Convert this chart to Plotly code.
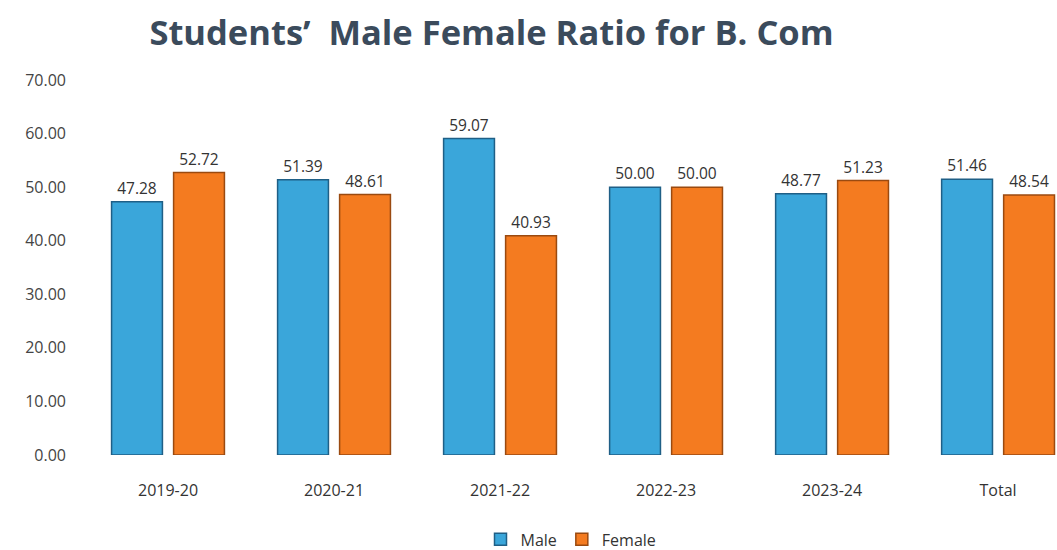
import plotly.graph_objects as go

categories = ["2019-20", "2020-21", "2021-22", "2022-23", "2023-24", "Total"]
male = [47.28, 51.39, 59.07, 50.00, 48.77, 51.46]
female = [52.72, 48.61, 40.93, 50.00, 51.23, 48.54]
y_ticks = [0, 10, 20, 30, 40, 50, 60, 70]

fig = go.Figure()
fig.add_trace(go.Bar(
    name="Male", x=categories, y=male,
    marker=dict(color="#3aa6da", line=dict(color="#1f5f86", width=1.5)),
    texttemplate="%{y:.2f}", textposition="outside",
    textfont=dict(size=15.5, color="#333333", family="Open Sans"),
    cliponaxis=False,
))
fig.add_trace(go.Bar(
    name="Female", x=categories, y=female,
    marker=dict(color="#f47b20", line=dict(color="#9a4a10", width=1.5)),
    texttemplate="%{y:.2f}", textposition="outside",
    textfont=dict(size=15.5, color="#333333", family="Open Sans"),
    cliponaxis=False,
))

fig.update_layout(
    width=1057, height=550,
    margin=dict(l=85, r=0, t=80, b=95, autoexpand=False),
    paper_bgcolor="white", plot_bgcolor="white",
    barmode="group", bargap=0.253, bargroupgap=0.18,
    title=dict(text="<b>Students’  Male Female Ratio for B. Com</b>",
               x=0.465, xanchor="center", y=0.94, yanchor="middle",
               font=dict(size=34.5, color="#3b4b5c", family="Open Sans")),
    xaxis=dict(range=[-0.5, 5.355], showgrid=False, showline=False, ticks="",
               ticklabelstandoff=24, automargin=False,
               tickfont=dict(size=16, color="#333333", family="Open Sans")),
    yaxis=dict(range=[0, 70], tickvals=y_ticks, tickformat=".2f", showgrid=False,
               zeroline=False, showline=False, ticks="", ticklabelstandoff=18,
               automargin=False,
               tickfont=dict(size=16, color="#444444", family="Open Sans")),
    legend=dict(orientation="h", x=0.5, xanchor="center", y=-0.225, yanchor="middle",
                font=dict(size=16, color="#333333", family="Open Sans"),
                itemwidth=30, tracegroupgap=0),
    showlegend=True,
)
fig.write_html("out.html")
